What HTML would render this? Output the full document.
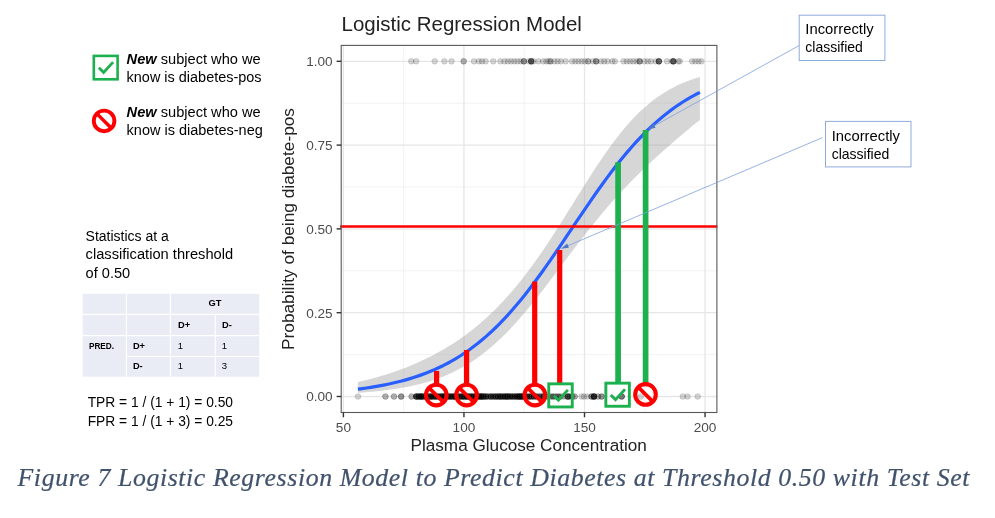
<!DOCTYPE html>
<html><head><meta charset="utf-8"><title>Figure 7</title>
<style>
html,body{margin:0;padding:0;background:#fff;}
body{width:995px;height:518px;overflow:hidden;font-family:"Liberation Sans",sans-serif;}
svg{display:block;position:absolute;left:0;top:0;will-change:transform;}
svg text{font-family:"Liberation Sans",sans-serif;}
.cap{font-family:"Liberation Serif",serif;font-style:italic;}
.lg{font-size:14px;fill:#000;}
.tb{font-size:9.3px;font-weight:bold;fill:#000;}
.tn{font-size:9.5px;fill:#000;}
</style></head>
<body>
<svg width="995" height="518" viewBox="0 0 995 518">
<!-- plot panel -->
<text x="341.5" y="31.1" font-size="20.3" fill="#222" textLength="240.4" lengthAdjust="spacingAndGlyphs">Logistic Regression Model</text>
<line x1="341.2" x2="716.9" y1="354.60" y2="354.60" stroke="#ededed" stroke-width="0.7"/>
<line x1="341.2" x2="716.9" y1="270.80" y2="270.80" stroke="#ededed" stroke-width="0.7"/>
<line x1="341.2" x2="716.9" y1="187.00" y2="187.00" stroke="#ededed" stroke-width="0.7"/>
<line x1="341.2" x2="716.9" y1="103.20" y2="103.20" stroke="#ededed" stroke-width="0.7"/>
<line y1="45.4" y2="412.5" x1="403.67" x2="403.67" stroke="#ededed" stroke-width="0.7"/>
<line y1="45.4" y2="412.5" x1="524.22" x2="524.22" stroke="#ededed" stroke-width="0.7"/>
<line y1="45.4" y2="412.5" x1="644.77" x2="644.77" stroke="#ededed" stroke-width="0.7"/>
<line x1="341.2" x2="716.9" y1="396.50" y2="396.50" stroke="#e6e6e6" stroke-width="1.3"/>
<line x1="341.2" x2="716.9" y1="312.70" y2="312.70" stroke="#e6e6e6" stroke-width="1.3"/>
<line x1="341.2" x2="716.9" y1="228.90" y2="228.90" stroke="#e6e6e6" stroke-width="1.3"/>
<line x1="341.2" x2="716.9" y1="145.10" y2="145.10" stroke="#e6e6e6" stroke-width="1.3"/>
<line x1="341.2" x2="716.9" y1="61.30" y2="61.30" stroke="#e6e6e6" stroke-width="1.3"/>
<line y1="45.4" y2="412.5" x1="343.40" x2="343.40" stroke="#e6e6e6" stroke-width="1.3"/>
<line y1="45.4" y2="412.5" x1="463.95" x2="463.95" stroke="#e6e6e6" stroke-width="1.3"/>
<line y1="45.4" y2="412.5" x1="584.50" x2="584.50" stroke="#e6e6e6" stroke-width="1.3"/>
<line y1="45.4" y2="412.5" x1="705.05" x2="705.05" stroke="#e6e6e6" stroke-width="1.3"/>
<g fill="#000" fill-opacity="0.16" stroke="#000" stroke-opacity="0.16" stroke-width="0.8"><circle cx="411.3" cy="61.3" r="2.85"/><circle cx="416.1" cy="61.3" r="2.85"/><circle cx="434.7" cy="61.3" r="2.85"/><circle cx="444.4" cy="61.3" r="2.85"/><circle cx="451.5" cy="61.3" r="2.85"/><circle cx="463.7" cy="61.3" r="2.85"/><circle cx="463.7" cy="61.3" r="2.85"/><circle cx="474.0" cy="61.3" r="2.85"/><circle cx="478.8" cy="61.3" r="2.85"/><circle cx="482.0" cy="61.3" r="2.85"/><circle cx="485.6" cy="61.3" r="2.85"/><circle cx="493.3" cy="61.3" r="2.85"/><circle cx="500.4" cy="61.3" r="2.85"/><circle cx="504.5" cy="61.3" r="2.85"/><circle cx="507.8" cy="61.3" r="2.85"/><circle cx="511.0" cy="61.3" r="2.85"/><circle cx="514.2" cy="61.3" r="2.85"/><circle cx="517.4" cy="61.3" r="2.85"/><circle cx="520.6" cy="61.3" r="2.85"/><circle cx="523.8" cy="61.3" r="2.85"/><circle cx="523.8" cy="61.3" r="2.85"/><circle cx="523.8" cy="61.3" r="2.85"/><circle cx="528.7" cy="61.3" r="2.85"/><circle cx="531.2" cy="61.3" r="2.85"/><circle cx="531.2" cy="61.3" r="2.85"/><circle cx="531.2" cy="61.3" r="2.85"/><circle cx="531.2" cy="61.3" r="2.85"/><circle cx="531.2" cy="61.3" r="2.85"/><circle cx="533.5" cy="61.3" r="2.85"/><circle cx="538.3" cy="61.3" r="2.85"/><circle cx="543.1" cy="61.3" r="2.85"/><circle cx="546.3" cy="61.3" r="2.85"/><circle cx="548.6" cy="61.3" r="2.85"/><circle cx="550.5" cy="61.3" r="2.85"/><circle cx="550.5" cy="61.3" r="2.85"/><circle cx="554.4" cy="61.3" r="2.85"/><circle cx="557.6" cy="61.3" r="2.85"/><circle cx="560.8" cy="61.3" r="2.85"/><circle cx="565.6" cy="61.3" r="2.85"/><circle cx="572.1" cy="61.3" r="2.85"/><circle cx="575.3" cy="61.3" r="2.85"/><circle cx="578.5" cy="61.3" r="2.85"/><circle cx="581.7" cy="61.3" r="2.85"/><circle cx="584.9" cy="61.3" r="2.85"/><circle cx="588.2" cy="61.3" r="2.85"/><circle cx="588.2" cy="61.3" r="2.85"/><circle cx="593.0" cy="61.3" r="2.85"/><circle cx="596.2" cy="61.3" r="2.85"/><circle cx="596.2" cy="61.3" r="2.85"/><circle cx="596.2" cy="61.3" r="2.85"/><circle cx="601.0" cy="61.3" r="2.85"/><circle cx="604.2" cy="61.3" r="2.85"/><circle cx="607.5" cy="61.3" r="2.85"/><circle cx="612.3" cy="61.3" r="2.85"/><circle cx="614.9" cy="61.3" r="2.85"/><circle cx="623.5" cy="61.3" r="2.85"/><circle cx="626.8" cy="61.3" r="2.85"/><circle cx="630.0" cy="61.3" r="2.85"/><circle cx="633.2" cy="61.3" r="2.85"/><circle cx="636.4" cy="61.3" r="2.85"/><circle cx="639.6" cy="61.3" r="2.85"/><circle cx="639.6" cy="61.3" r="2.85"/><circle cx="639.6" cy="61.3" r="2.85"/><circle cx="644.5" cy="61.3" r="2.85"/><circle cx="647.7" cy="61.3" r="2.85"/><circle cx="650.9" cy="61.3" r="2.85"/><circle cx="655.7" cy="61.3" r="2.85"/><circle cx="658.9" cy="61.3" r="2.85"/><circle cx="658.9" cy="61.3" r="2.85"/><circle cx="658.9" cy="61.3" r="2.85"/><circle cx="658.9" cy="61.3" r="2.85"/><circle cx="658.9" cy="61.3" r="2.85"/><circle cx="667.0" cy="61.3" r="2.85"/><circle cx="671.8" cy="61.3" r="2.85"/><circle cx="673.4" cy="61.3" r="2.85"/><circle cx="673.4" cy="61.3" r="2.85"/><circle cx="673.4" cy="61.3" r="2.85"/><circle cx="673.4" cy="61.3" r="2.85"/><circle cx="673.4" cy="61.3" r="2.85"/><circle cx="678.2" cy="61.3" r="2.85"/><circle cx="679.8" cy="61.3" r="2.85"/><circle cx="692.1" cy="61.3" r="2.85"/><circle cx="695.3" cy="61.3" r="2.85"/><circle cx="698.5" cy="61.3" r="2.85"/><circle cx="701.4" cy="61.3" r="2.85"/><circle cx="358.0" cy="396.5" r="2.85"/><circle cx="385.4" cy="396.5" r="2.85"/><circle cx="385.4" cy="396.5" r="2.85"/><circle cx="394.0" cy="396.5" r="2.85"/><circle cx="394.0" cy="396.5" r="2.85"/><circle cx="401.1" cy="396.5" r="2.85"/><circle cx="401.1" cy="396.5" r="2.85"/><circle cx="401.1" cy="396.5" r="2.85"/><circle cx="411.6" cy="396.5" r="2.85"/><circle cx="411.6" cy="396.5" r="2.85"/><circle cx="416.4" cy="396.5" r="2.85"/><circle cx="416.4" cy="396.5" r="2.85"/><circle cx="416.4" cy="396.5" r="2.85"/><circle cx="416.4" cy="396.5" r="2.85"/><circle cx="416.4" cy="396.5" r="2.85"/><circle cx="416.4" cy="396.5" r="2.85"/><circle cx="416.4" cy="396.5" r="2.85"/><circle cx="418.8" cy="396.5" r="2.85"/><circle cx="418.8" cy="396.5" r="2.85"/><circle cx="418.8" cy="396.5" r="2.85"/><circle cx="418.8" cy="396.5" r="2.85"/><circle cx="418.8" cy="396.5" r="2.85"/><circle cx="418.8" cy="396.5" r="2.85"/><circle cx="421.2" cy="396.5" r="2.85"/><circle cx="421.2" cy="396.5" r="2.85"/><circle cx="421.2" cy="396.5" r="2.85"/><circle cx="421.2" cy="396.5" r="2.85"/><circle cx="421.2" cy="396.5" r="2.85"/><circle cx="421.2" cy="396.5" r="2.85"/><circle cx="421.2" cy="396.5" r="2.85"/><circle cx="421.2" cy="396.5" r="2.85"/><circle cx="423.6" cy="396.5" r="2.85"/><circle cx="423.6" cy="396.5" r="2.85"/><circle cx="423.6" cy="396.5" r="2.85"/><circle cx="423.6" cy="396.5" r="2.85"/><circle cx="423.6" cy="396.5" r="2.85"/><circle cx="426.0" cy="396.5" r="2.85"/><circle cx="426.0" cy="396.5" r="2.85"/><circle cx="426.0" cy="396.5" r="2.85"/><circle cx="426.0" cy="396.5" r="2.85"/><circle cx="426.0" cy="396.5" r="2.85"/><circle cx="428.4" cy="396.5" r="2.85"/><circle cx="428.4" cy="396.5" r="2.85"/><circle cx="428.4" cy="396.5" r="2.85"/><circle cx="428.4" cy="396.5" r="2.85"/><circle cx="428.4" cy="396.5" r="2.85"/><circle cx="430.8" cy="396.5" r="2.85"/><circle cx="430.8" cy="396.5" r="2.85"/><circle cx="430.8" cy="396.5" r="2.85"/><circle cx="430.8" cy="396.5" r="2.85"/><circle cx="430.8" cy="396.5" r="2.85"/><circle cx="430.8" cy="396.5" r="2.85"/><circle cx="430.8" cy="396.5" r="2.85"/><circle cx="433.2" cy="396.5" r="2.85"/><circle cx="433.2" cy="396.5" r="2.85"/><circle cx="433.2" cy="396.5" r="2.85"/><circle cx="433.2" cy="396.5" r="2.85"/><circle cx="433.2" cy="396.5" r="2.85"/><circle cx="435.6" cy="396.5" r="2.85"/><circle cx="435.6" cy="396.5" r="2.85"/><circle cx="435.6" cy="396.5" r="2.85"/><circle cx="435.6" cy="396.5" r="2.85"/><circle cx="435.6" cy="396.5" r="2.85"/><circle cx="435.6" cy="396.5" r="2.85"/><circle cx="438.0" cy="396.5" r="2.85"/><circle cx="438.0" cy="396.5" r="2.85"/><circle cx="438.0" cy="396.5" r="2.85"/><circle cx="438.0" cy="396.5" r="2.85"/><circle cx="438.0" cy="396.5" r="2.85"/><circle cx="440.4" cy="396.5" r="2.85"/><circle cx="440.4" cy="396.5" r="2.85"/><circle cx="440.4" cy="396.5" r="2.85"/><circle cx="440.4" cy="396.5" r="2.85"/><circle cx="440.4" cy="396.5" r="2.85"/><circle cx="442.8" cy="396.5" r="2.85"/><circle cx="442.8" cy="396.5" r="2.85"/><circle cx="442.8" cy="396.5" r="2.85"/><circle cx="442.8" cy="396.5" r="2.85"/><circle cx="442.8" cy="396.5" r="2.85"/><circle cx="442.8" cy="396.5" r="2.85"/><circle cx="442.8" cy="396.5" r="2.85"/><circle cx="442.8" cy="396.5" r="2.85"/><circle cx="445.2" cy="396.5" r="2.85"/><circle cx="445.2" cy="396.5" r="2.85"/><circle cx="445.2" cy="396.5" r="2.85"/><circle cx="445.2" cy="396.5" r="2.85"/><circle cx="445.2" cy="396.5" r="2.85"/><circle cx="445.2" cy="396.5" r="2.85"/><circle cx="445.2" cy="396.5" r="2.85"/><circle cx="445.2" cy="396.5" r="2.85"/><circle cx="447.6" cy="396.5" r="2.85"/><circle cx="447.6" cy="396.5" r="2.85"/><circle cx="447.6" cy="396.5" r="2.85"/><circle cx="447.6" cy="396.5" r="2.85"/><circle cx="447.6" cy="396.5" r="2.85"/><circle cx="450.0" cy="396.5" r="2.85"/><circle cx="450.0" cy="396.5" r="2.85"/><circle cx="450.0" cy="396.5" r="2.85"/><circle cx="450.0" cy="396.5" r="2.85"/><circle cx="450.0" cy="396.5" r="2.85"/><circle cx="450.0" cy="396.5" r="2.85"/><circle cx="452.4" cy="396.5" r="2.85"/><circle cx="452.4" cy="396.5" r="2.85"/><circle cx="452.4" cy="396.5" r="2.85"/><circle cx="452.4" cy="396.5" r="2.85"/><circle cx="452.4" cy="396.5" r="2.85"/><circle cx="454.8" cy="396.5" r="2.85"/><circle cx="454.8" cy="396.5" r="2.85"/><circle cx="454.8" cy="396.5" r="2.85"/><circle cx="454.8" cy="396.5" r="2.85"/><circle cx="454.8" cy="396.5" r="2.85"/><circle cx="454.8" cy="396.5" r="2.85"/><circle cx="454.8" cy="396.5" r="2.85"/><circle cx="454.8" cy="396.5" r="2.85"/><circle cx="457.2" cy="396.5" r="2.85"/><circle cx="457.2" cy="396.5" r="2.85"/><circle cx="457.2" cy="396.5" r="2.85"/><circle cx="457.2" cy="396.5" r="2.85"/><circle cx="457.2" cy="396.5" r="2.85"/><circle cx="459.6" cy="396.5" r="2.85"/><circle cx="459.6" cy="396.5" r="2.85"/><circle cx="459.6" cy="396.5" r="2.85"/><circle cx="459.6" cy="396.5" r="2.85"/><circle cx="459.6" cy="396.5" r="2.85"/><circle cx="462.0" cy="396.5" r="2.85"/><circle cx="462.0" cy="396.5" r="2.85"/><circle cx="462.0" cy="396.5" r="2.85"/><circle cx="462.0" cy="396.5" r="2.85"/><circle cx="462.0" cy="396.5" r="2.85"/><circle cx="462.0" cy="396.5" r="2.85"/><circle cx="464.4" cy="396.5" r="2.85"/><circle cx="464.4" cy="396.5" r="2.85"/><circle cx="464.4" cy="396.5" r="2.85"/><circle cx="464.4" cy="396.5" r="2.85"/><circle cx="464.4" cy="396.5" r="2.85"/><circle cx="466.8" cy="396.5" r="2.85"/><circle cx="466.8" cy="396.5" r="2.85"/><circle cx="466.8" cy="396.5" r="2.85"/><circle cx="466.8" cy="396.5" r="2.85"/><circle cx="466.8" cy="396.5" r="2.85"/><circle cx="466.8" cy="396.5" r="2.85"/><circle cx="466.8" cy="396.5" r="2.85"/><circle cx="466.8" cy="396.5" r="2.85"/><circle cx="469.2" cy="396.5" r="2.85"/><circle cx="469.2" cy="396.5" r="2.85"/><circle cx="469.2" cy="396.5" r="2.85"/><circle cx="469.2" cy="396.5" r="2.85"/><circle cx="469.2" cy="396.5" r="2.85"/><circle cx="471.6" cy="396.5" r="2.85"/><circle cx="471.6" cy="396.5" r="2.85"/><circle cx="471.6" cy="396.5" r="2.85"/><circle cx="471.6" cy="396.5" r="2.85"/><circle cx="471.6" cy="396.5" r="2.85"/><circle cx="471.6" cy="396.5" r="2.85"/><circle cx="474.0" cy="396.5" r="2.85"/><circle cx="474.0" cy="396.5" r="2.85"/><circle cx="474.0" cy="396.5" r="2.85"/><circle cx="474.0" cy="396.5" r="2.85"/><circle cx="474.0" cy="396.5" r="2.85"/><circle cx="476.4" cy="396.5" r="2.85"/><circle cx="476.4" cy="396.5" r="2.85"/><circle cx="476.4" cy="396.5" r="2.85"/><circle cx="476.4" cy="396.5" r="2.85"/><circle cx="476.4" cy="396.5" r="2.85"/><circle cx="476.4" cy="396.5" r="2.85"/><circle cx="478.8" cy="396.5" r="2.85"/><circle cx="478.8" cy="396.5" r="2.85"/><circle cx="478.8" cy="396.5" r="2.85"/><circle cx="478.8" cy="396.5" r="2.85"/><circle cx="478.8" cy="396.5" r="2.85"/><circle cx="478.8" cy="396.5" r="2.85"/><circle cx="478.8" cy="396.5" r="2.85"/><circle cx="481.2" cy="396.5" r="2.85"/><circle cx="481.2" cy="396.5" r="2.85"/><circle cx="481.2" cy="396.5" r="2.85"/><circle cx="481.2" cy="396.5" r="2.85"/><circle cx="481.2" cy="396.5" r="2.85"/><circle cx="481.2" cy="396.5" r="2.85"/><circle cx="481.2" cy="396.5" r="2.85"/><circle cx="481.2" cy="396.5" r="2.85"/><circle cx="483.6" cy="396.5" r="2.85"/><circle cx="483.6" cy="396.5" r="2.85"/><circle cx="483.6" cy="396.5" r="2.85"/><circle cx="483.6" cy="396.5" r="2.85"/><circle cx="483.6" cy="396.5" r="2.85"/><circle cx="483.6" cy="396.5" r="2.85"/><circle cx="486.0" cy="396.5" r="2.85"/><circle cx="486.0" cy="396.5" r="2.85"/><circle cx="486.0" cy="396.5" r="2.85"/><circle cx="486.0" cy="396.5" r="2.85"/><circle cx="486.0" cy="396.5" r="2.85"/><circle cx="488.4" cy="396.5" r="2.85"/><circle cx="488.4" cy="396.5" r="2.85"/><circle cx="488.4" cy="396.5" r="2.85"/><circle cx="490.8" cy="396.5" r="2.85"/><circle cx="490.8" cy="396.5" r="2.85"/><circle cx="490.8" cy="396.5" r="2.85"/><circle cx="490.8" cy="396.5" r="2.85"/><circle cx="490.8" cy="396.5" r="2.85"/><circle cx="493.2" cy="396.5" r="2.85"/><circle cx="493.2" cy="396.5" r="2.85"/><circle cx="493.2" cy="396.5" r="2.85"/><circle cx="493.2" cy="396.5" r="2.85"/><circle cx="495.6" cy="396.5" r="2.85"/><circle cx="495.6" cy="396.5" r="2.85"/><circle cx="495.6" cy="396.5" r="2.85"/><circle cx="495.6" cy="396.5" r="2.85"/><circle cx="495.6" cy="396.5" r="2.85"/><circle cx="498.0" cy="396.5" r="2.85"/><circle cx="498.0" cy="396.5" r="2.85"/><circle cx="498.0" cy="396.5" r="2.85"/><circle cx="498.0" cy="396.5" r="2.85"/><circle cx="498.0" cy="396.5" r="2.85"/><circle cx="500.4" cy="396.5" r="2.85"/><circle cx="500.4" cy="396.5" r="2.85"/><circle cx="500.4" cy="396.5" r="2.85"/><circle cx="500.4" cy="396.5" r="2.85"/><circle cx="500.4" cy="396.5" r="2.85"/><circle cx="500.4" cy="396.5" r="2.85"/><circle cx="502.8" cy="396.5" r="2.85"/><circle cx="502.8" cy="396.5" r="2.85"/><circle cx="502.8" cy="396.5" r="2.85"/><circle cx="502.8" cy="396.5" r="2.85"/><circle cx="502.8" cy="396.5" r="2.85"/><circle cx="505.2" cy="396.5" r="2.85"/><circle cx="505.2" cy="396.5" r="2.85"/><circle cx="505.2" cy="396.5" r="2.85"/><circle cx="505.2" cy="396.5" r="2.85"/><circle cx="505.2" cy="396.5" r="2.85"/><circle cx="505.2" cy="396.5" r="2.85"/><circle cx="507.6" cy="396.5" r="2.85"/><circle cx="507.6" cy="396.5" r="2.85"/><circle cx="507.6" cy="396.5" r="2.85"/><circle cx="507.6" cy="396.5" r="2.85"/><circle cx="507.6" cy="396.5" r="2.85"/><circle cx="507.6" cy="396.5" r="2.85"/><circle cx="507.6" cy="396.5" r="2.85"/><circle cx="510.0" cy="396.5" r="2.85"/><circle cx="510.0" cy="396.5" r="2.85"/><circle cx="510.0" cy="396.5" r="2.85"/><circle cx="510.0" cy="396.5" r="2.85"/><circle cx="510.0" cy="396.5" r="2.85"/><circle cx="512.4" cy="396.5" r="2.85"/><circle cx="512.4" cy="396.5" r="2.85"/><circle cx="512.4" cy="396.5" r="2.85"/><circle cx="512.4" cy="396.5" r="2.85"/><circle cx="512.4" cy="396.5" r="2.85"/><circle cx="514.8" cy="396.5" r="2.85"/><circle cx="514.8" cy="396.5" r="2.85"/><circle cx="514.8" cy="396.5" r="2.85"/><circle cx="514.8" cy="396.5" r="2.85"/><circle cx="514.8" cy="396.5" r="2.85"/><circle cx="517.2" cy="396.5" r="2.85"/><circle cx="517.2" cy="396.5" r="2.85"/><circle cx="517.2" cy="396.5" r="2.85"/><circle cx="517.2" cy="396.5" r="2.85"/><circle cx="517.2" cy="396.5" r="2.85"/><circle cx="517.2" cy="396.5" r="2.85"/><circle cx="519.6" cy="396.5" r="2.85"/><circle cx="519.6" cy="396.5" r="2.85"/><circle cx="519.6" cy="396.5" r="2.85"/><circle cx="519.6" cy="396.5" r="2.85"/><circle cx="519.6" cy="396.5" r="2.85"/><circle cx="519.6" cy="396.5" r="2.85"/><circle cx="519.6" cy="396.5" r="2.85"/><circle cx="519.6" cy="396.5" r="2.85"/><circle cx="522.0" cy="396.5" r="2.85"/><circle cx="522.0" cy="396.5" r="2.85"/><circle cx="522.0" cy="396.5" r="2.85"/><circle cx="522.0" cy="396.5" r="2.85"/><circle cx="522.0" cy="396.5" r="2.85"/><circle cx="522.0" cy="396.5" r="2.85"/><circle cx="522.0" cy="396.5" r="2.85"/><circle cx="522.0" cy="396.5" r="2.85"/><circle cx="524.4" cy="396.5" r="2.85"/><circle cx="524.4" cy="396.5" r="2.85"/><circle cx="524.4" cy="396.5" r="2.85"/><circle cx="524.4" cy="396.5" r="2.85"/><circle cx="526.8" cy="396.5" r="2.85"/><circle cx="526.8" cy="396.5" r="2.85"/><circle cx="526.8" cy="396.5" r="2.85"/><circle cx="526.8" cy="396.5" r="2.85"/><circle cx="529.2" cy="396.5" r="2.85"/><circle cx="529.2" cy="396.5" r="2.85"/><circle cx="529.2" cy="396.5" r="2.85"/><circle cx="529.2" cy="396.5" r="2.85"/><circle cx="529.2" cy="396.5" r="2.85"/><circle cx="531.6" cy="396.5" r="2.85"/><circle cx="531.6" cy="396.5" r="2.85"/><circle cx="531.6" cy="396.5" r="2.85"/><circle cx="531.6" cy="396.5" r="2.85"/><circle cx="534.0" cy="396.5" r="2.85"/><circle cx="534.0" cy="396.5" r="2.85"/><circle cx="534.0" cy="396.5" r="2.85"/><circle cx="534.0" cy="396.5" r="2.85"/><circle cx="536.4" cy="396.5" r="2.85"/><circle cx="536.4" cy="396.5" r="2.85"/><circle cx="536.4" cy="396.5" r="2.85"/><circle cx="536.4" cy="396.5" r="2.85"/><circle cx="538.8" cy="396.5" r="2.85"/><circle cx="538.8" cy="396.5" r="2.85"/><circle cx="538.8" cy="396.5" r="2.85"/><circle cx="541.2" cy="396.5" r="2.85"/><circle cx="541.2" cy="396.5" r="2.85"/><circle cx="541.2" cy="396.5" r="2.85"/><circle cx="543.6" cy="396.5" r="2.85"/><circle cx="543.6" cy="396.5" r="2.85"/><circle cx="543.6" cy="396.5" r="2.85"/><circle cx="543.6" cy="396.5" r="2.85"/><circle cx="543.6" cy="396.5" r="2.85"/><circle cx="546.0" cy="396.5" r="2.85"/><circle cx="546.0" cy="396.5" r="2.85"/><circle cx="548.4" cy="396.5" r="2.85"/><circle cx="550.8" cy="396.5" r="2.85"/><circle cx="550.8" cy="396.5" r="2.85"/><circle cx="553.2" cy="396.5" r="2.85"/><circle cx="553.2" cy="396.5" r="2.85"/><circle cx="553.2" cy="396.5" r="2.85"/><circle cx="555.6" cy="396.5" r="2.85"/><circle cx="555.6" cy="396.5" r="2.85"/><circle cx="558.0" cy="396.5" r="2.85"/><circle cx="558.0" cy="396.5" r="2.85"/><circle cx="558.0" cy="396.5" r="2.85"/><circle cx="560.4" cy="396.5" r="2.85"/><circle cx="560.4" cy="396.5" r="2.85"/><circle cx="562.8" cy="396.5" r="2.85"/><circle cx="565.2" cy="396.5" r="2.85"/><circle cx="567.6" cy="396.5" r="2.85"/><circle cx="567.6" cy="396.5" r="2.85"/><circle cx="567.6" cy="396.5" r="2.85"/><circle cx="570.0" cy="396.5" r="2.85"/><circle cx="570.0" cy="396.5" r="2.85"/><circle cx="572.4" cy="396.5" r="2.85"/><circle cx="572.4" cy="396.5" r="2.85"/><circle cx="574.8" cy="396.5" r="2.85"/><circle cx="574.8" cy="396.5" r="2.85"/><circle cx="568.2" cy="396.5" r="2.85"/><circle cx="568.2" cy="396.5" r="2.85"/><circle cx="568.2" cy="396.5" r="2.85"/><circle cx="581.6" cy="396.5" r="2.85"/><circle cx="584.0" cy="396.5" r="2.85"/><circle cx="587.3" cy="396.5" r="2.85"/><circle cx="594.0" cy="396.5" r="2.85"/><circle cx="594.0" cy="396.5" r="2.85"/><circle cx="594.0" cy="396.5" r="2.85"/><circle cx="594.0" cy="396.5" r="2.85"/><circle cx="594.0" cy="396.5" r="2.85"/><circle cx="594.0" cy="396.5" r="2.85"/><circle cx="594.0" cy="396.5" r="2.85"/><circle cx="594.0" cy="396.5" r="2.85"/><circle cx="591.5" cy="396.5" r="2.85"/><circle cx="591.5" cy="396.5" r="2.85"/><circle cx="591.5" cy="396.5" r="2.85"/><circle cx="601.6" cy="396.5" r="2.85"/><circle cx="601.6" cy="396.5" r="2.85"/><circle cx="601.6" cy="396.5" r="2.85"/><circle cx="598.0" cy="396.5" r="2.85"/><circle cx="598.0" cy="396.5" r="2.85"/><circle cx="621.7" cy="396.5" r="2.85"/><circle cx="621.7" cy="396.5" r="2.85"/><circle cx="621.7" cy="396.5" r="2.85"/><circle cx="621.7" cy="396.5" r="2.85"/><circle cx="640.8" cy="396.5" r="2.85"/><circle cx="682.8" cy="396.5" r="2.85"/><circle cx="687.5" cy="396.5" r="2.85"/><circle cx="697.7" cy="396.5" r="2.85"/></g>
<path d="M357.90,382.09 L362.18,381.10 L366.45,380.06 L370.73,378.96 L375.00,377.81 L379.27,376.59 L383.55,375.31 L387.82,373.97 L392.10,372.56 L396.38,371.08 L400.65,369.53 L404.93,367.91 L409.20,366.21 L413.48,364.42 L417.75,362.56 L422.02,360.61 L426.30,358.57 L430.57,356.43 L434.85,354.20 L439.12,351.86 L443.40,349.42 L447.68,346.87 L451.95,344.20 L456.23,341.41 L460.50,338.49 L464.77,335.44 L469.05,332.25 L473.32,328.92 L477.60,325.43 L481.88,321.79 L486.15,317.99 L490.42,314.02 L494.70,309.88 L498.98,305.56 L503.25,301.05 L507.52,296.37 L511.80,291.49 L516.08,286.43 L520.35,281.17 L524.62,275.73 L528.90,270.10 L533.17,264.29 L537.45,258.31 L541.73,252.16 L546.00,245.85 L550.27,239.41 L554.55,232.84 L558.83,226.17 L563.10,219.41 L567.38,212.59 L571.65,205.73 L575.92,198.85 L580.20,191.99 L584.48,185.18 L588.75,178.44 L593.02,171.79 L597.30,165.27 L601.58,158.91 L605.85,152.72 L610.12,146.73 L614.40,140.95 L618.67,135.42 L622.95,130.12 L627.22,125.09 L631.50,120.32 L635.77,115.82 L640.05,111.59 L644.33,107.64 L648.60,103.94 L652.88,100.51 L657.15,97.33 L661.42,94.39 L665.70,91.68 L669.97,89.20 L674.25,86.93 L678.52,84.85 L682.80,82.95 L687.08,81.23 L691.35,79.67 L695.62,78.26 L699.90,76.99 L699.90,119.89 L695.62,123.35 L691.35,126.85 L687.08,130.39 L682.80,133.95 L678.52,137.56 L674.25,141.21 L669.97,144.90 L665.70,148.64 L661.42,152.43 L657.15,156.28 L652.88,160.20 L648.60,164.19 L644.33,168.25 L640.05,172.40 L635.77,176.63 L631.50,180.96 L627.22,185.38 L622.95,189.91 L618.67,194.54 L614.40,199.27 L610.12,204.11 L605.85,209.06 L601.58,214.11 L597.30,219.26 L593.02,224.51 L588.75,229.85 L584.48,235.27 L580.20,240.77 L575.92,246.34 L571.65,251.95 L567.38,257.60 L563.10,263.28 L558.83,268.97 L554.55,274.64 L550.27,280.29 L546.00,285.90 L541.73,291.45 L537.45,296.91 L533.17,302.28 L528.90,307.54 L524.62,312.67 L520.35,317.66 L516.08,322.49 L511.80,327.15 L507.52,331.64 L503.25,335.94 L498.98,340.06 L494.70,343.98 L490.42,347.70 L486.15,351.23 L481.88,354.56 L477.60,357.69 L473.32,360.64 L469.05,363.39 L464.77,365.97 L460.50,368.37 L456.23,370.61 L451.95,372.68 L447.68,374.61 L443.40,376.39 L439.12,378.03 L434.85,379.55 L430.57,380.94 L426.30,382.23 L422.02,383.41 L417.75,384.49 L413.48,385.49 L409.20,386.40 L404.93,387.23 L400.65,388.00 L396.38,388.69 L392.10,389.33 L387.82,389.92 L383.55,390.45 L379.27,390.94 L375.00,391.39 L370.73,391.80 L366.45,392.17 L362.18,392.52 L357.90,392.83Z" fill="#999" fill-opacity="0.4"/>
<path d="M357.90,389.19 L362.18,388.62 L366.45,388.02 L370.73,387.36 L375.00,386.66 L379.27,385.91 L383.55,385.10 L387.82,384.23 L392.10,383.30 L396.38,382.30 L400.65,381.23 L404.93,380.08 L409.20,378.85 L413.48,377.54 L417.75,376.13 L422.02,374.63 L426.30,373.02 L430.57,371.30 L434.85,369.47 L439.12,367.52 L443.40,365.44 L447.68,363.23 L451.95,360.88 L456.23,358.38 L460.50,355.74 L464.77,352.93 L469.05,349.97 L473.32,346.83 L477.60,343.53 L481.88,340.05 L486.15,336.38 L490.42,332.54 L494.70,328.51 L498.98,324.29 L503.25,319.89 L507.52,315.30 L511.80,310.53 L516.08,305.57 L520.35,300.45 L524.62,295.15 L528.90,289.69 L533.17,284.08 L537.45,278.33 L541.73,272.44 L546.00,266.44 L550.27,260.34 L554.55,254.14 L558.83,247.88 L563.10,241.56 L567.38,235.21 L571.65,228.84 L575.92,222.47 L580.20,216.11 L584.48,209.79 L588.75,203.53 L593.02,197.34 L597.30,191.24 L601.58,185.24 L605.85,179.36 L610.12,173.61 L614.40,168.00 L618.67,162.54 L622.95,157.25 L627.22,152.13 L631.50,147.18 L635.77,142.41 L640.05,137.82 L644.33,133.42 L648.60,129.21 L652.88,125.18 L657.15,121.34 L661.42,117.68 L665.70,114.21 L669.97,110.90 L674.25,107.77 L678.52,104.81 L682.80,102.01 L687.08,99.37 L691.35,96.87 L695.62,94.53 L699.90,92.32" fill="none" stroke="#2a5fff" stroke-width="3.2" stroke-linejoin="round"/>
<line x1="340.1" x2="717.4" y1="226.5" y2="226.5" stroke="#ff0000" stroke-width="2.7"/>
<rect x="341.2" y="45.4" width="375.7" height="367.1" fill="none" stroke="#585858" stroke-width="1.1"/>
<line x1="336.59999999999997" x2="341.2" y1="396.50" y2="396.50" stroke="#333" stroke-width="1.4"/>
<text x="332.6" y="401.40" text-anchor="end" font-size="13.6" fill="#4d4d4d">0.00</text>
<line x1="336.59999999999997" x2="341.2" y1="312.70" y2="312.70" stroke="#333" stroke-width="1.4"/>
<text x="332.6" y="317.60" text-anchor="end" font-size="13.6" fill="#4d4d4d">0.25</text>
<line x1="336.59999999999997" x2="341.2" y1="228.90" y2="228.90" stroke="#333" stroke-width="1.4"/>
<text x="332.6" y="233.80" text-anchor="end" font-size="13.6" fill="#4d4d4d">0.50</text>
<line x1="336.59999999999997" x2="341.2" y1="145.10" y2="145.10" stroke="#333" stroke-width="1.4"/>
<text x="332.6" y="150.00" text-anchor="end" font-size="13.6" fill="#4d4d4d">0.75</text>
<line x1="336.59999999999997" x2="341.2" y1="61.30" y2="61.30" stroke="#333" stroke-width="1.4"/>
<text x="332.6" y="66.20" text-anchor="end" font-size="13.6" fill="#4d4d4d">1.00</text>
<line y1="412.5" y2="417.3" x1="343.40" x2="343.40" stroke="#333" stroke-width="1.4"/>
<text x="343.40" y="431.5" text-anchor="middle" font-size="13.6" fill="#4d4d4d">50</text>
<line y1="412.5" y2="417.3" x1="463.95" x2="463.95" stroke="#333" stroke-width="1.4"/>
<text x="463.95" y="431.5" text-anchor="middle" font-size="13.6" fill="#4d4d4d">100</text>
<line y1="412.5" y2="417.3" x1="584.50" x2="584.50" stroke="#333" stroke-width="1.4"/>
<text x="584.50" y="431.5" text-anchor="middle" font-size="13.6" fill="#4d4d4d">150</text>
<line y1="412.5" y2="417.3" x1="705.05" x2="705.05" stroke="#333" stroke-width="1.4"/>
<text x="705.05" y="431.5" text-anchor="middle" font-size="13.6" fill="#4d4d4d">200</text>
<text x="410.5" y="451.1" font-size="16.8" fill="#222" textLength="236.4" lengthAdjust="spacingAndGlyphs">Plasma Glucose Concentration</text>
<text transform="translate(294,350) rotate(-90)" font-size="17.4" fill="#222" textLength="242" lengthAdjust="spacingAndGlyphs">Probability of being diabete-pos</text>
<!-- subjects -->
<line x1="436.6" x2="436.6" y1="371" y2="384.5" stroke="#ff0000" stroke-width="5.2"/>
<line x1="466.6" x2="466.6" y1="350" y2="384.5" stroke="#ff0000" stroke-width="5.2"/>
<line x1="534.7" x2="534.7" y1="281.6" y2="384.5" stroke="#ff0000" stroke-width="5.2"/>
<line x1="559.7" x2="559.7" y1="250.0" y2="384.0" stroke="#ff0000" stroke-width="5.2"/>
<line x1="618.1" x2="618.1" y1="162.2" y2="383.2" stroke="#1cb04e" stroke-width="5.7"/>
<line x1="645.6" x2="645.6" y1="130.0" y2="384.5" stroke="#1cb04e" stroke-width="5.7"/>
<circle cx="436.3" cy="395.1" r="10.3" fill="none" stroke="#ff0000" stroke-width="4.1"/><line x1="429.02" y1="387.82" x2="443.58" y2="402.38" stroke="#ff0000" stroke-width="3.6999999999999997"/>
<circle cx="466.6" cy="395.1" r="10.3" fill="none" stroke="#ff0000" stroke-width="4.1"/><line x1="459.32" y1="387.82" x2="473.88" y2="402.38" stroke="#ff0000" stroke-width="3.6999999999999997"/>
<circle cx="534.9" cy="395.1" r="10.3" fill="none" stroke="#ff0000" stroke-width="4.1"/><line x1="527.62" y1="387.82" x2="542.18" y2="402.38" stroke="#ff0000" stroke-width="3.6999999999999997"/>
<circle cx="645.5" cy="394.4" r="10.3" fill="none" stroke="#ff0000" stroke-width="4.1"/><line x1="638.22" y1="387.12" x2="652.78" y2="401.68" stroke="#ff0000" stroke-width="3.6999999999999997"/>
<rect x="548.75" y="383.85" width="23.50" height="23.10" fill="none" stroke="#1cb04e" stroke-width="2.9"/><polyline fill="none" stroke="#1cb04e" stroke-width="2.8" points="553.70,395.60 558.40,400.30 567.90,389.90"/>
<rect x="605.85" y="383.15" width="23.50" height="23.10" fill="none" stroke="#1cb04e" stroke-width="2.9"/><polyline fill="none" stroke="#1cb04e" stroke-width="2.8" points="610.80,394.90 615.50,399.60 625.00,389.20"/>
<!-- callouts -->
<line x1="799.2" y1="45.5" x2="650" y2="128.2" stroke="#7d9fdc" stroke-width="0.8"/>
<polygon points="647.9,129.4 653.4,123.6 655.6,127.7" fill="#4f79c7"/>
<line x1="822.5" y1="137.6" x2="564" y2="247.4" stroke="#7d9fdc" stroke-width="0.8"/>
<polygon points="561,248.7 567.2,243.6 568.9,247.8" fill="#4f79c7"/>
<rect x="799.2" y="15.2" width="85.7" height="45.3" fill="#fff" stroke="#8faadc" stroke-width="1"/>
<rect x="825.5" y="121.4" width="85.5" height="45.5" fill="#fff" stroke="#8faadc" stroke-width="1"/>
<text x="805.3" y="33.8" font-size="14.1" fill="#000" textLength="68.3" lengthAdjust="spacingAndGlyphs">Incorrectly</text>
<text x="805.3" y="52.4" font-size="14.1" fill="#000" textLength="57.6" lengthAdjust="spacingAndGlyphs">classified</text>
<text x="831.7" y="140.6" font-size="14.1" fill="#000" textLength="68.3" lengthAdjust="spacingAndGlyphs">Incorrectly</text>
<text x="831.7" y="158.5" font-size="14.1" fill="#000" textLength="57.6" lengthAdjust="spacingAndGlyphs">classified</text>
<!-- legend -->
<rect x="93.80" y="55.90" width="23.80" height="23.40" fill="none" stroke="#1cb04e" stroke-width="2.6"/><polyline fill="none" stroke="#1cb04e" stroke-width="2.8" points="98.90,67.80 103.60,72.50 113.10,62.10"/><circle cx="104.1" cy="120.9" r="10.3" fill="none" stroke="#ff0000" stroke-width="3.9"/><line x1="96.82" y1="113.62" x2="111.38" y2="128.18" stroke="#ff0000" stroke-width="3.5"/>
<text x="126.6" y="64.0" class="lg" textLength="134.1" lengthAdjust="spacingAndGlyphs"><tspan font-weight="bold" font-style="italic">New</tspan> subject who we</text>
<text x="126.6" y="82.3" class="lg" textLength="135" lengthAdjust="spacingAndGlyphs">know is diabetes-pos</text>
<text x="126.6" y="116.6" class="lg" textLength="134.1" lengthAdjust="spacingAndGlyphs"><tspan font-weight="bold" font-style="italic">New</tspan> subject who we</text>
<text x="126.6" y="135.0" class="lg" textLength="136.2" lengthAdjust="spacingAndGlyphs">know is diabetes-neg</text>
<!-- stats -->
<text x="85.6" y="240.8" class="lg">Statistics at a</text>
<text x="85.6" y="258.9" class="lg" textLength="147.6" lengthAdjust="spacingAndGlyphs">classification threshold</text>
<text x="85.6" y="278.4" class="lg" textLength="44.6" lengthAdjust="spacingAndGlyphs">of 0.50</text>
<rect x="82.7" y="293.8" width="176.5" height="82.9" fill="#e9ebf5"/>
<line x1="82.7" x2="259.2" y1="314.3" y2="314.3" stroke="#fff" stroke-width="1.2"/>
<line x1="82.7" x2="259.2" y1="335.6" y2="335.6" stroke="#fff" stroke-width="1.2"/>
<line x1="126.4" x2="259.2" y1="356.5" y2="356.5" stroke="#fff" stroke-width="1.2"/>
<line x1="126.4" x2="126.4" y1="293.8" y2="376.7" stroke="#fff" stroke-width="1.2"/>
<line x1="170.4" x2="170.4" y1="293.8" y2="376.7" stroke="#fff" stroke-width="1.2"/>
<line x1="215.2" x2="215.2" y1="314.3" y2="376.7" stroke="#fff" stroke-width="1.2"/>
<text x="215" y="306" text-anchor="middle" class="tb">GT</text>
<text x="178" y="328" class="tb">D+</text>
<text x="222" y="328" class="tb">D-</text>
<text x="88.9" y="349.3" class="tb" textLength="25.2" lengthAdjust="spacingAndGlyphs">PRED.</text>
<text x="132.9" y="349.3" class="tb">D+</text>
<text x="177.7" y="349.3" class="tn">1</text>
<text x="221.7" y="349.3" class="tn">1</text>
<text x="132.9" y="369.2" class="tb">D-</text>
<text x="177.7" y="369.2" class="tn">1</text>
<text x="221.7" y="369.2" class="tn">3</text>
<text x="87.7" y="406.9" class="lg" textLength="145.3" lengthAdjust="spacingAndGlyphs">TPR = 1 / (1 + 1) = 0.50</text>
<text x="87.7" y="425.9" class="lg" textLength="145.3" lengthAdjust="spacingAndGlyphs">FPR = 1 / (1 + 3) = 0.25</text>
<!-- caption -->
<text x="17.5" y="486.4" class="cap" font-size="25.8" fill="#41526c" stroke="#41526c" stroke-width="0.22" textLength="952" lengthAdjust="spacing">Figure 7 Logistic Regression Model to Predict Diabetes at Threshold 0.50 with Test Set</text>
</svg>
</body></html>
